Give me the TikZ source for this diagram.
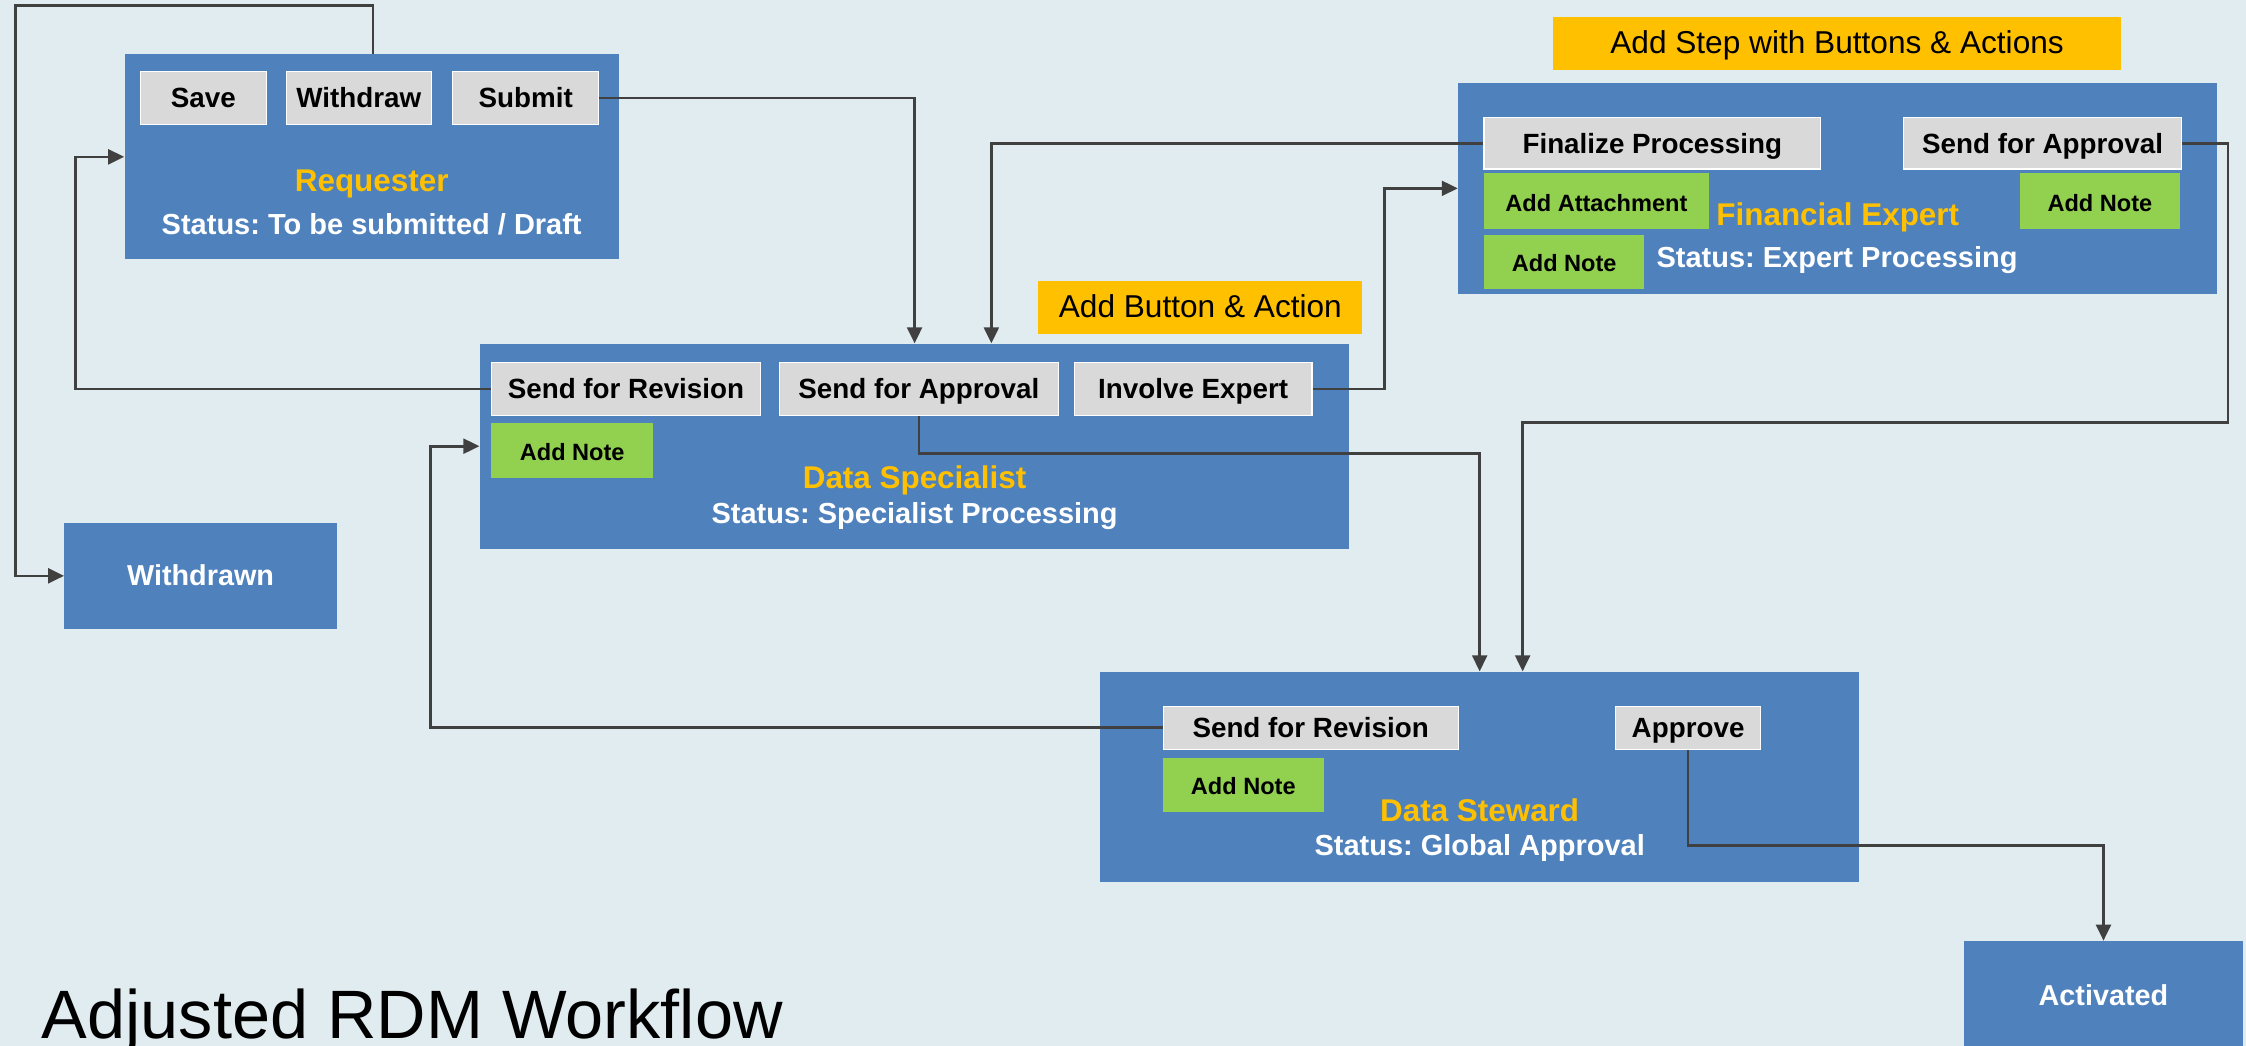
\documentclass[tikz,border=0pt]{standalone}
\usepackage{fontspec}
\setmainfont{Liberation Sans}
\usetikzlibrary{arrows.meta}

\definecolor{bgpale}{RGB}{224,236,240}
\definecolor{laneblue}{RGB}{79,129,189}
\definecolor{btngray}{RGB}{217,217,217}
\definecolor{notegreen}{RGB}{146,208,80}
\definecolor{hintorange}{RGB}{255,192,0}
\definecolor{wiregray}{RGB}{64,64,64}

\tikzset{
    wh/.style 2 args={minimum width=#1*0.25mm, minimum height=#2*0.25mm},
    lane/.style={fill=laneblue, inner sep=0pt},
    btn/.style={fill=btngray, draw=white, line width=0.6pt, inner sep=0pt,
        text height=1.85ex, text depth=0pt,
        font=\fontsize{13.8}{16}\selectfont\bfseries},
    note/.style={fill=notegreen, inner sep=0pt,
        text height=1.85ex, text depth=0pt,
        font=\fontsize{11.7}{14}\selectfont\bfseries},
    hint/.style={fill=hintorange, inner sep=0pt,
        text height=1.85ex, text depth=0pt,
        font=\fontsize{15.7}{18}\selectfont},
    role/.style={anchor=base, text=hintorange, inner sep=0pt,
        font=\fontsize{15.6}{18}\selectfont\bfseries},
    status/.style={anchor=base, text=white, inner sep=0pt,
        font=\fontsize{14.4}{17}\selectfont\bfseries},
    final/.style={fill=laneblue, text=white, inner sep=0pt,
        text height=1.85ex, text depth=0pt,
        font=\fontsize{14.3}{17}\selectfont\bfseries},
    flow/.style={->, draw=wiregray, line width=1.3pt},
}

\begin{document}
\frenchspacing
\begin{tikzpicture}[x=0.25mm, y=-0.25mm, >={Triangle[length=2.8mm,width=2.6mm]}]
    \path[use as bounding box, fill=bgpale] (0,0) rectangle (1568,730);

    % requester
    \node[lane, wh={345}{143}] (req) at (259.5,109.5) {};
    \node[btn, wh={88}{37}] (save) at (142,68.5) {Save};
    \node[btn, wh={101}{37}] (wdr) at (250.5,68.5) {Withdraw};
    \node[btn, wh={102}{37}] (submit) at (367,68.5) {Submit};
    \node[role] (reqname) at (259.5,134) {Requester};
    \node[status] (reqstatus) at (259.5,163.5) {Status: To be submitted / Draft};

    \node[final, wh={190}{74}] (withdrawn) at (140,402) {Withdrawn};

    % data specialist
    \node[hint, wh={226}{37}] (hintbtn) at (838,214.5) {Add Button \& Action};
    \node[lane, wh={607}{143}] (ds) at (638.5,311.5) {};
    \node[btn, wh={188}{37}] (dsrev) at (437,271.5) {Send for Revision};
    \node[btn, wh={195}{37}] (dsapp) at (641.5,271.5) {Send for Approval};
    \node[btn, wh={166}{37}] (dsexp) at (833,271.5) {Involve Expert};
    \node[note, wh={113}{39}] (dsnote) at (399.5,314.5) {Add Note};
    \node[role] (dsname) at (638.5,341) {Data Specialist};
    \node[status] (dsstatus) at (638.5,365.5) {Status: Specialist Processing};

    % financial expert
    \node[hint, wh={397}{37}] (hintstep) at (1282.5,30.5) {Add Step with Buttons \& Actions};
    \node[lane, wh={530}{147}] (fe) at (1283,131.5) {};
    \node[btn, wh={235}{36}] (fin) at (1153.5,100) {Finalize Processing};
    \node[btn, wh={194}{36}] (feapp) at (1426,100) {Send for Approval};
    \node[note, wh={157}{39}] (feattach) at (1114.5,140.5) {Add Attachment};
    \node[note, wh={112}{38}] (fenote) at (1092,183) {Add Note};
    \node[note, wh={112}{39}] (feappnote) at (1466,140.5) {Add Note};
    \node[role] (fename) at (1283,157.5) {Financial Expert};
    \node[status] (festatus) at (1282.5,187) {Status: Expert Processing};

    % data steward
    \node[lane, wh={530}{147}] (dst) at (1033,542.5) {};
    \node[btn, wh={206}{30}] (dstrev) at (915,508) {Send for Revision};
    \node[btn, wh={101}{30}] (appr) at (1178.5,508) {Approve};
    \node[note, wh={112}{38}] (dstnote) at (868,548) {Add Note};
    \node[role] (dstname) at (1033,573.5) {Data Steward};
    \node[status] (dststatus) at (1033,597) {Status: Global Approval};

    \node[final, wh={195}{76}] (act) at (1468.5,695) {Activated};

    \node[anchor=base west, inner sep=0pt, font=\fontsize{34}{40}\selectfont] (title) at (29,725) {Adjusted RDM Workflow};

    % connectors
    \draw[flow] ([xshift=2.5mm]req.north -| wdr.north) -- ++(0,-34) -- ++(-249.5,0) |- (withdrawn.west);
    \draw[flow] (submit.east) -| (ds.north);
    \draw[flow] (dsrev.west) -- ++(-290,0) |- (req.west);
    \draw[flow] (dsapp.south) -- ++(0,26) -| (dst.north);
    \draw[flow] (dsexp.east) -- ++(50,0) |- (fe.west);
    \draw[flow] (fin.west) -| ([xshift=13.4mm]ds.north);
    \draw[flow] (feapp.east) -- ++(32,0) -- ++(0,195) -| ([xshift=7.5mm]dst.north);
    \draw[flow] (dstrev.west) -- ++(-511,0) |- (ds.west);
    \draw[flow] (appr.south) -- ++(0,67) -| (act.north);
\end{tikzpicture}
\end{document}
